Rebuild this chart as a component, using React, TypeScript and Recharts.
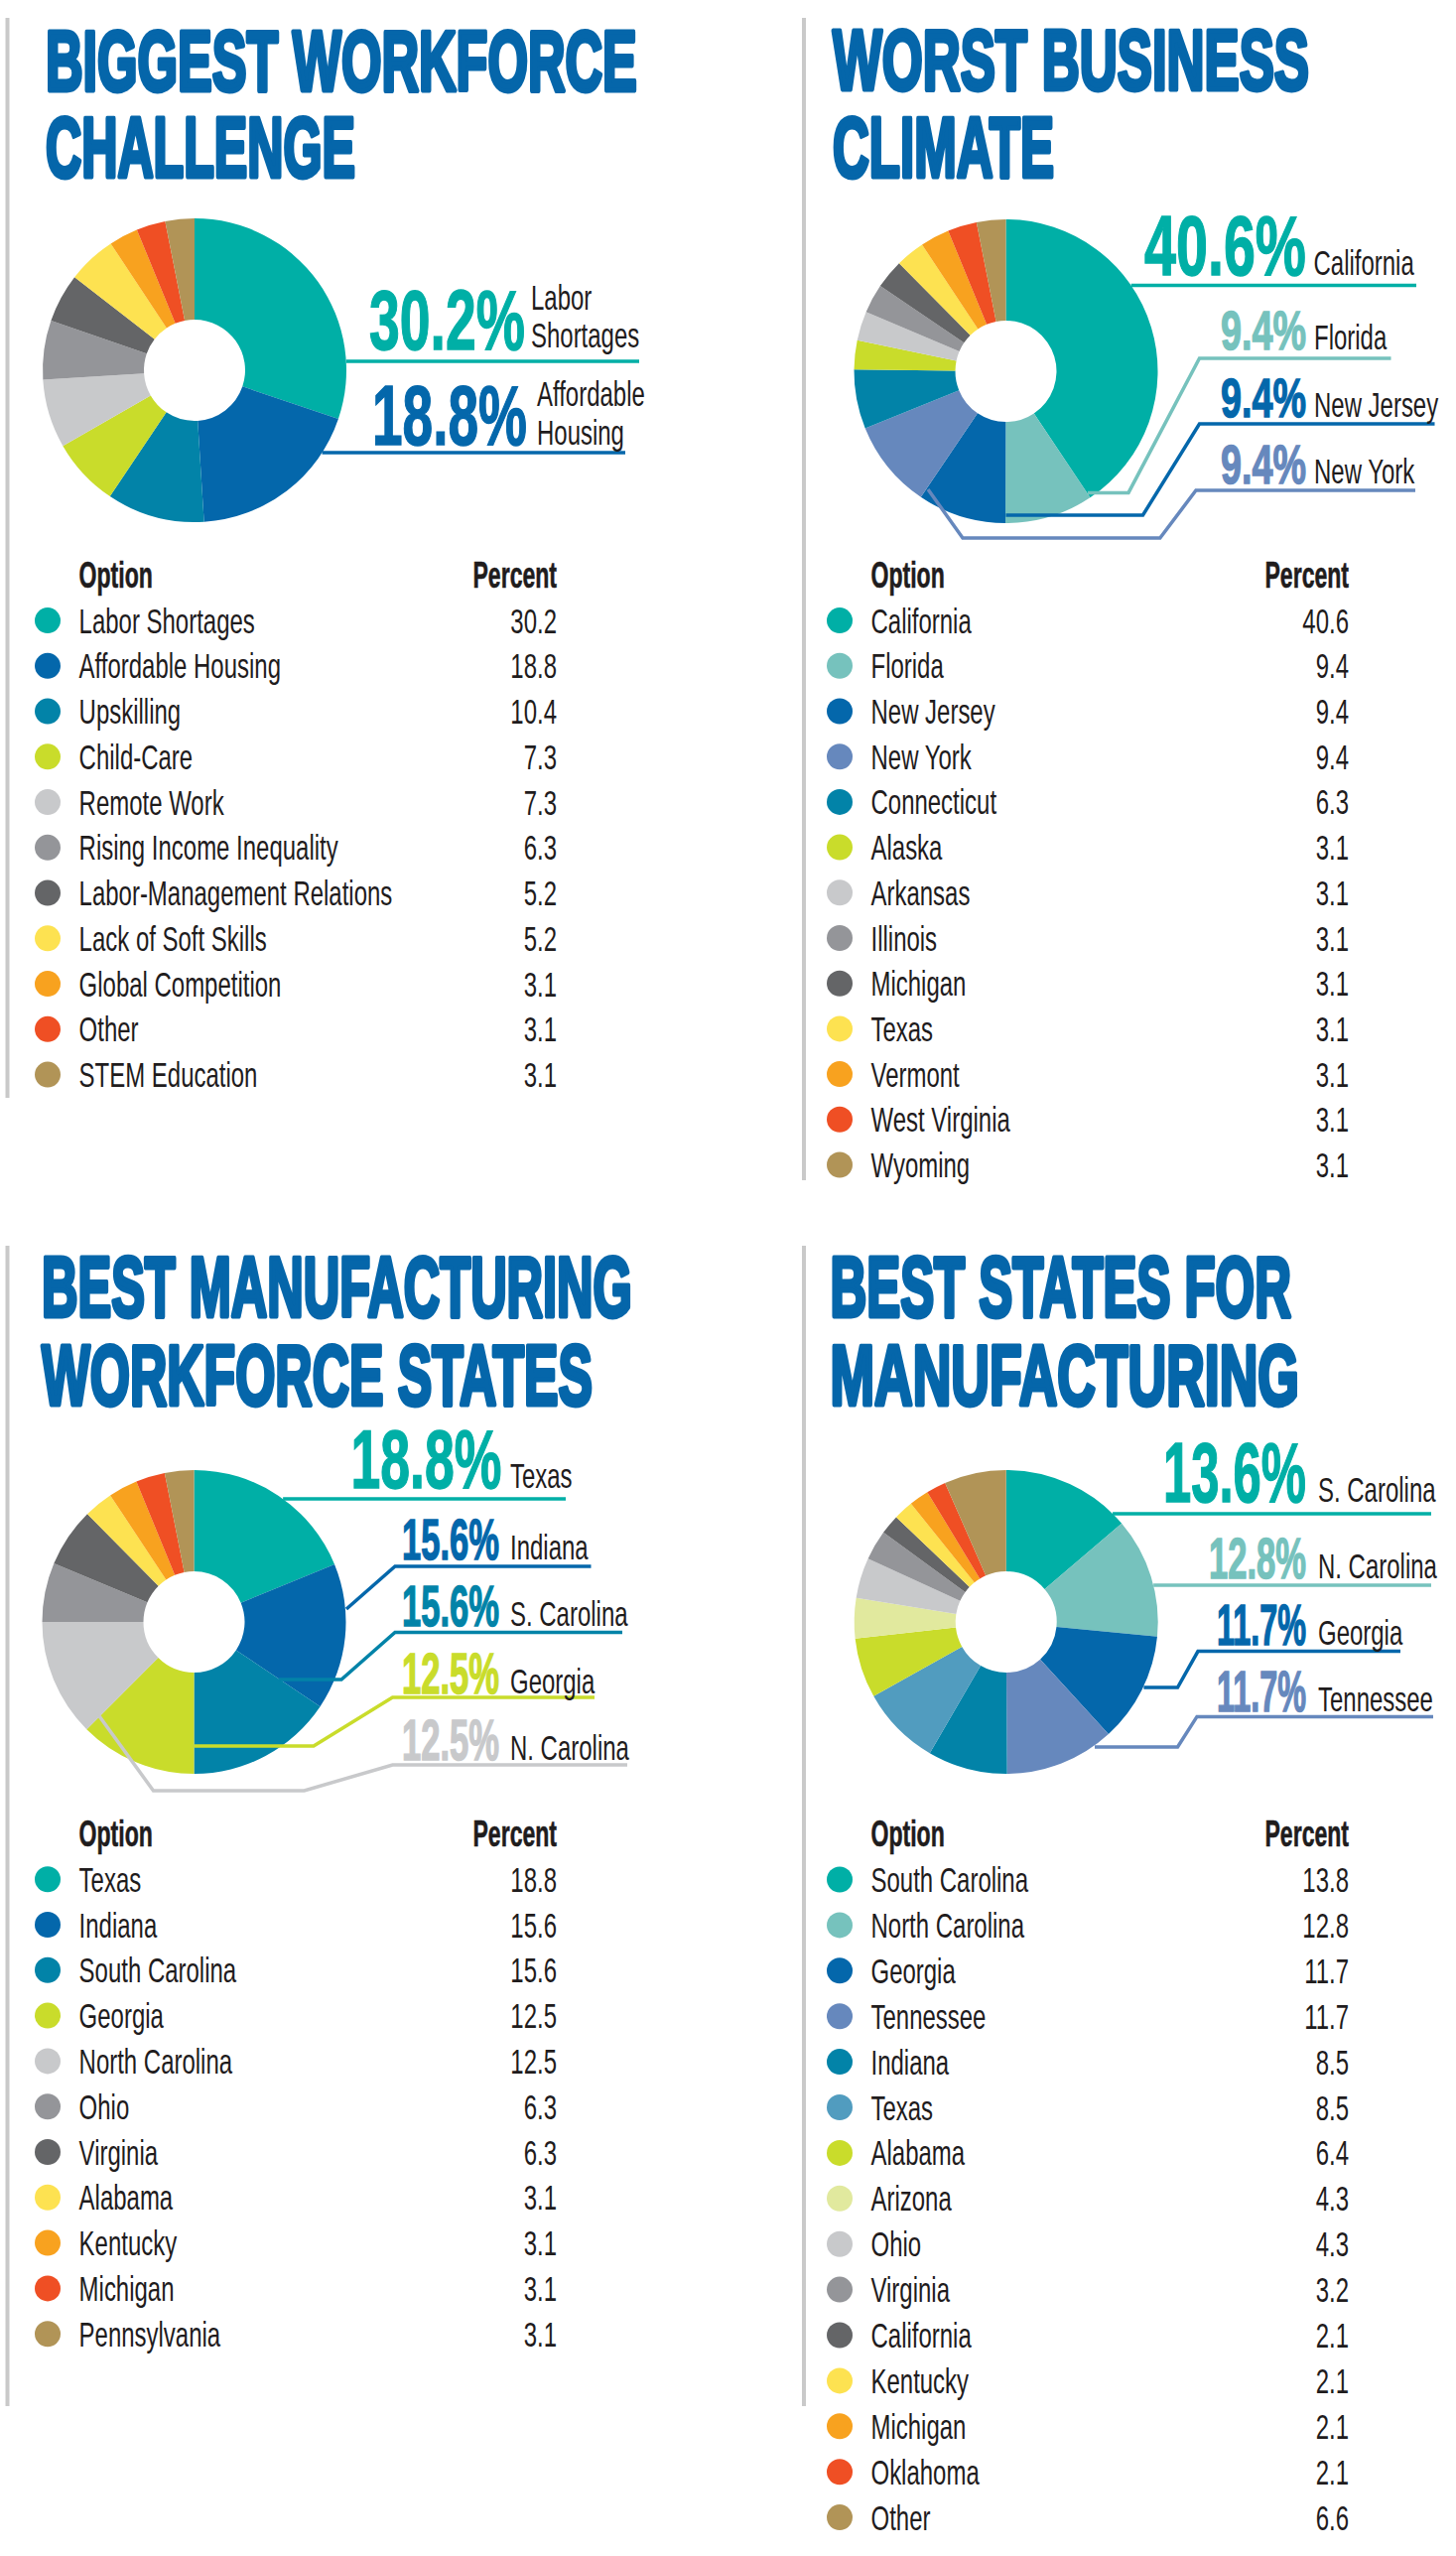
import React from "react";
import { PieChart, Pie, Cell } from "recharts";

// ---------- palette ----------
const TEAL = "#00afa6";
const LTEAL = "#76c2bd";
const DBLUE = "#0467ab";
const PERI = "#6688bd";
const OCEAN = "#0283a8";
const SKY = "#519cbf";
const LIME = "#c9dc2b";
const PALELIME = "#e1e99e";
const LGRAY = "#c8c9cb";
const MGRAY = "#949599";
const DGRAY = "#646567";
const YELLOW = "#fde251";
const ORANGE = "#f8a21f";
const RED = "#ef4f24";
const TAN = "#b19457";
const TITLE_BLUE = "#0566aa";
const INK = "#1f1c1d";
const BAR_GREY = "#c9c9c9";
const FONT = "'Liberation Sans', Arial, sans-serif";

// ---------- data ----------
const workforceOptions = [
  "Labor Shortages", "Affordable Housing", "Upskilling", "Child-Care", "Remote Work",
  "Rising Income Inequality", "Labor-Management Relations", "Lack of Soft Skills",
  "Global Competition", "Other", "STEM Education",
];
const workforcePercents = [30.2, 18.8, 10.4, 7.3, 7.3, 6.3, 5.2, 5.2, 3.1, 3.1, 3.1];
const workforceColors = [TEAL, DBLUE, OCEAN, LIME, LGRAY, MGRAY, DGRAY, YELLOW, ORANGE, RED, TAN];
const workforceCalloutPct = ["30.2%", "18.8%"];
const workforceCalloutNames = [["Labor", "Shortages"], ["Affordable", "Housing"]];

const climateStates = [
  "California", "Florida", "New Jersey", "New York", "Connecticut", "Alaska", "Arkansas",
  "Illinois", "Michigan", "Texas", "Vermont", "West Virginia", "Wyoming",
];
const climatePercents = [40.6, 9.4, 9.4, 9.4, 6.3, 3.1, 3.1, 3.1, 3.1, 3.1, 3.1, 3.1, 3.1];
const climateColors = [TEAL, LTEAL, DBLUE, PERI, OCEAN, LIME, LGRAY, MGRAY, DGRAY, YELLOW, ORANGE, RED, TAN];
const climateCalloutPct = ["40.6%", "9.4%", "9.4%", "9.4%"];
const climateCalloutNames = [["California"], ["Florida"], ["New Jersey"], ["New York"]];

const workforceStates = [
  "Texas", "Indiana", "South Carolina", "Georgia", "North Carolina", "Ohio", "Virginia",
  "Alabama", "Kentucky", "Michigan", "Pennsylvania",
];
const workforceStatePercents = [18.8, 15.6, 15.6, 12.5, 12.5, 6.3, 6.3, 3.1, 3.1, 3.1, 3.1];
const workforceStateColors = [TEAL, DBLUE, OCEAN, LIME, LGRAY, MGRAY, DGRAY, YELLOW, ORANGE, RED, TAN];
const workforceStateCalloutPct = ["18.8%", "15.6%", "15.6%", "12.5%", "12.5%"];
const workforceStateCalloutNames = [["Texas"], ["Indiana"], ["S. Carolina"], ["Georgia"], ["N. Carolina"]];

const manufacturingStates = [
  "South Carolina", "North Carolina", "Georgia", "Tennessee", "Indiana", "Texas", "Alabama",
  "Arizona", "Ohio", "Virginia", "California", "Kentucky", "Michigan", "Oklahoma", "Other",
];
const manufacturingPercents = [13.8, 12.8, 11.7, 11.7, 8.5, 8.5, 6.4, 4.3, 4.3, 3.2, 2.1, 2.1, 2.1, 2.1, 6.6];
const manufacturingColors = [TEAL, LTEAL, DBLUE, PERI, OCEAN, SKY, LIME, PALELIME, LGRAY, MGRAY, DGRAY, YELLOW, ORANGE, RED, TAN];
const manufacturingCalloutPct = ["13.6%", "12.8%", "11.7%", "11.7%"];
const manufacturingCalloutNames = [["S. Carolina"], ["N. Carolina"], ["Georgia"], ["Tennessee"]];

// ---------- text measuring (to squeeze a regular font into the condensed look) ----------
let measureCtx: CanvasRenderingContext2D | null = null;
function measureText(text: string, size: number, weight: number): number {
  if (!measureCtx) {
    const c = document.createElement("canvas");
    measureCtx = c.getContext("2d");
  }
  if (!measureCtx) return text.length * size * 0.55;
  measureCtx.font = `${weight} ${size}px ${FONT}`;
  return measureCtx.measureText(text).width || text.length * size * 0.55;
}

// ---------- layout (positions relative to the pie centre) ----------
type CalloutLayout = {
  pctRight: number;
  pctBaseline: number;
  pctSize: number;
  pctWidth: number;
  nameX: number;
  nameBaselines: number[];
  edgeY?: number;
  lineEnd?: number;
  path?: [number, number][];
};

const workforceLayout: CalloutLayout[] = [
  { pctRight: 333, pctBaseline: -21, pctSize: 85, pctWidth: 157, nameX: 339, nameBaselines: [-61, -23], edgeY: -9, lineEnd: 448 },
  { pctRight: 335, pctBaseline: 75, pctSize: 85, pctWidth: 156, nameX: 345, nameBaselines: [36, 75], edgeY: 83, lineEnd: 434 },
];
const climateLayout: CalloutLayout[] = [
  { pctRight: 302.5, pctBaseline: -97, pctSize: 85, pctWidth: 163, nameX: 310, nameBaselines: [-97], edgeY: -86.5, lineEnd: 413.5 },
  { pctRight: 302.5, pctBaseline: -22, pctSize: 56, pctWidth: 86, nameX: 310.5, nameBaselines: [-22], path: [[388, -13], [195, -13], [123.5, 122.4], [82.5, 122.4]] },
  { pctRight: 302.5, pctBaseline: 46, pctSize: 56, pctWidth: 86, nameX: 310.5, nameBaselines: [46], path: [[432, 53], [195, 53], [138, 145], [0, 145]] },
  { pctRight: 302.5, pctBaseline: 113, pctSize: 56, pctWidth: 86, nameX: 310.5, nameBaselines: [113], path: [[412.5, 120], [191.5, 120], [155.3, 168], [-43.5, 168], [-78.5, 119]] },
];
const workforceStateLayout: CalloutLayout[] = [
  { pctRight: 310, pctBaseline: -135, pctSize: 84, pctWidth: 152, nameX: 318.5, nameBaselines: [-135], edgeY: -124, lineEnd: 374.5 },
  { pctRight: 307.5, pctBaseline: -63, pctSize: 57, pctWidth: 98, nameX: 318.5, nameBaselines: [-63], path: [[400, -56], [202.5, -56], [153.5, -13]] },
  { pctRight: 307.5, pctBaseline: 4, pctSize: 57, pctWidth: 98, nameX: 318.5, nameBaselines: [4], path: [[431.5, 10.5], [202.5, 10.5], [148.5, 58], [85.5, 58]] },
  { pctRight: 307.5, pctBaseline: 72, pctSize: 57, pctWidth: 98, nameX: 318.5, nameBaselines: [72], path: [[403.5, 76], [200, 76], [120.5, 125], [0, 125]] },
  { pctRight: 307.5, pctBaseline: 139, pctSize: 57, pctWidth: 98, nameX: 318.5, nameBaselines: [139], path: [[436.5, 144], [200, 144], [111, 170], [-41, 170], [-96.5, 93.5]] },
];
const manufacturingLayout: CalloutLayout[] = [
  { pctRight: 302.3, pctBaseline: -121, pctSize: 85, pctWidth: 144, nameX: 314.3, nameBaselines: [-121], edgeY: -109, lineEnd: 428.3 },
  { pctRight: 302.3, pctBaseline: -44, pctSize: 58, pctWidth: 98, nameX: 314.3, nameBaselines: [-44], edgeY: -37, lineEnd: 428.3 },
  { pctRight: 302.3, pctBaseline: 23, pctSize: 57, pctWidth: 90, nameX: 314.3, nameBaselines: [23], path: [[397.3, 29.6], [193.3, 29.6], [172.8, 66], [138.7, 66]] },
  { pctRight: 302.3, pctBaseline: 90, pctSize: 57, pctWidth: 90, nameX: 314.3, nameBaselines: [90], path: [[430.3, 95.4], [192.3, 95.4], [172.8, 126], [89.3, 126]] },
];

type PanelSpec = {
  key: string;
  names: string[];
  values: number[];
  colors: string[];
  calloutPct: string[];
  calloutNames: string[][];
  layout: CalloutLayout[];
  box: { left: number; top: number; width: number; height: number; cx: number; cy: number };
  title: { x: number; lines: { text: string; y: number; w: number }[] };
  bar: { x: number; y1: number; y2: number };
  table: { dotX: number; textX: number; rightX: number; headerY: number; firstY: number; pitch: number };
};

const panels: PanelSpec[] = [
  {
    key: "workforce",
    names: workforceOptions, values: workforcePercents, colors: workforceColors,
    calloutPct: workforceCalloutPct, calloutNames: workforceCalloutNames, layout: workforceLayout,
    box: { left: 0, top: 0, width: 734, height: 580, cx: 196, cy: 373 },
    title: { x: 44, lines: [{ text: "BIGGEST WORKFORCE", y: 93, w: 600 }, { text: "CHALLENGE", y: 180, w: 316 }] },
    bar: { x: 7.5, y1: 18, y2: 1106 },
    table: { dotX: 48, textX: 79.6, rightX: 561, headerY: 592, firstY: 637.6, pitch: 45.75 },
  },
  {
    key: "climate",
    names: climateStates, values: climatePercents, colors: climateColors,
    calloutPct: climateCalloutPct, calloutNames: climateCalloutNames, layout: climateLayout,
    box: { left: 734, top: 0, width: 733, height: 580, cx: 279.5, cy: 374 },
    title: { x: 837, lines: [{ text: "WORST BUSINESS", y: 92, w: 484 }, { text: "CLIMATE", y: 180, w: 227 }] },
    bar: { x: 810, y1: 18, y2: 1189 },
    table: { dotX: 846, textX: 877.5, rightX: 1359, headerY: 592, firstY: 637.6, pitch: 45.7 },
  },
  {
    key: "workforceStates",
    names: workforceStates, values: workforceStatePercents, colors: workforceStateColors,
    calloutPct: workforceStateCalloutPct, calloutNames: workforceStateCalloutNames, layout: workforceStateLayout,
    box: { left: 0, top: 1230, width: 734, height: 600, cx: 195.5, cy: 404 },
    title: { x: 40, lines: [{ text: "BEST MANUFACTURING", y: 1328, w: 599 }, { text: "WORKFORCE STATES", y: 1417, w: 559 }] },
    bar: { x: 7.5, y1: 1255, y2: 2424 },
    table: { dotX: 48, textX: 79.6, rightX: 561, headerY: 1860, firstY: 1905.7, pitch: 45.8 },
  },
  {
    key: "manufacturing",
    names: manufacturingStates, values: manufacturingPercents, colors: manufacturingColors,
    calloutPct: manufacturingCalloutPct, calloutNames: manufacturingCalloutNames, layout: manufacturingLayout,
    box: { left: 734, top: 1230, width: 733, height: 600, cx: 279.7, cy: 404 },
    title: { x: 834.5, lines: [{ text: "BEST STATES FOR", y: 1328, w: 468.5 }, { text: "MANUFACTURING", y: 1417, w: 476.5 }] },
    bar: { x: 810, y1: 1255, y2: 2424 },
    table: { dotX: 846, textX: 877.5, rightX: 1359, headerY: 1860, firstY: 1906, pitch: 45.9 },
  },
];

const ROW_SIZE = 35;
const ROW_SCALE = 0.685;
const HEAD_SIZE = 36;
const HEAD_SCALE = 0.64;

function makeCalloutRenderer(p: PanelSpec) {
  return (props: any) => {
    const { cx, cy, outerRadius, index } = props;
    const L = p.layout[index];
    if (!L) return <g key={`none-${index}`} />;
    const color = p.colors[index];
    let pts: [number, number][];
    if (L.edgeY !== undefined) {
      const dx = Math.sqrt(Math.max(0, outerRadius * outerRadius - L.edgeY * L.edgeY));
      pts = [[cx + (L.lineEnd as number), cy + L.edgeY], [cx + dx, cy + L.edgeY]];
    } else {
      pts = (L.path || []).map(([x, y]) => [cx + x, cy + y] as [number, number]);
    }
    const pctText = p.calloutPct[index];
    const sx = L.pctWidth / measureText(pctText, L.pctSize, 700);
    const pctX = cx + L.pctRight - L.pctWidth;
    return (
      <g key={`callout-${index}`}>
        <polyline
          points={pts.map((q) => q.join(",")).join(" ")}
          fill="none"
          stroke={color}
          strokeWidth={3.5}
          strokeLinejoin="miter"
        />
        <text
          transform={`translate(${pctX},${cy + L.pctBaseline}) scale(${sx},1)`}
          fontFamily={FONT}
          fontWeight={700}
          fontSize={L.pctSize}
          fill={color}
          stroke={color}
          strokeWidth={1.2}
          vectorEffect="non-scaling-stroke"
        >
          {pctText}
        </text>
        {p.calloutNames[index].map((nm, k) => (
          <text
            key={k}
            transform={`translate(${cx + L.nameX},${cy + L.nameBaselines[k]}) scale(${ROW_SCALE},1)`}
            fontFamily={FONT}
            fontSize={ROW_SIZE}
            fill={INK}
          >
            {nm}
          </text>
        ))}
      </g>
    );
  };
}

function PanelChart({ p }: { p: PanelSpec }) {
  const data = p.names.map((name, i) => ({ name, value: p.values[i] }));
  return (
    <div style={{ position: "absolute", left: p.box.left, top: p.box.top, width: p.box.width, height: p.box.height }}>
      <PieChart width={p.box.width} height={p.box.height} margin={{ top: 0, right: 0, bottom: 0, left: 0 }}>
        <Pie
          data={data}
          dataKey="value"
          nameKey="name"
          cx={p.box.cx}
          cy={p.box.cy}
          innerRadius={51}
          outerRadius={153}
          startAngle={90}
          endAngle={-270}
          stroke="none"
          isAnimationActive={false}
          labelLine={false}
          label={makeCalloutRenderer(p)}
        >
          {data.map((d, i) => (
            <Cell key={d.name} fill={p.colors[i]} stroke="none" />
          ))}
        </Pie>
      </PieChart>
    </div>
  );
}

function PanelStatic({ p }: { p: PanelSpec }) {
  const t = p.table;
  return (
    <g>
      <rect x={p.bar.x - 2} y={p.bar.y1} width={4} height={p.bar.y2 - p.bar.y1} fill={BAR_GREY} />
      {p.title.lines.map((ln) => {
        const sx = (ln.w - 4) / measureText(ln.text, 85, 700);
        return (
          <text
            key={ln.text}
            transform={`translate(${p.title.x + 2},${ln.y - 2}) scale(${sx},1)`}
            fontFamily={FONT}
            fontWeight={700}
            fontSize={85}
            fill={TITLE_BLUE}
            stroke={TITLE_BLUE}
            strokeWidth={4}
            strokeLinejoin="round"
            vectorEffect="non-scaling-stroke"
          >
            {ln.text}
          </text>
        );
      })}
      <text
        transform={`translate(${t.textX},${t.headerY}) scale(${HEAD_SCALE},1)`}
        fontFamily={FONT}
        fontWeight={700}
        fontSize={HEAD_SIZE}
        fill={INK}
        stroke={INK}
        strokeWidth={0.6}
      >
        Option
      </text>
      <text
        transform={`translate(${t.rightX},${t.headerY}) scale(${HEAD_SCALE},1)`}
        textAnchor="end"
        fontFamily={FONT}
        fontWeight={700}
        fontSize={HEAD_SIZE}
        fill={INK}
        stroke={INK}
        strokeWidth={0.6}
      >
        Percent
      </text>
      {p.names.map((nm, i) => {
        const y = t.firstY + i * t.pitch;
        return (
          <g key={nm}>
            <circle cx={t.dotX} cy={y - 12.5} r={13} fill={p.colors[i]} />
            <text
              transform={`translate(${t.textX},${y}) scale(${ROW_SCALE},1)`}
              fontFamily={FONT}
              fontSize={ROW_SIZE}
              fill={INK}
            >
              {nm}
            </text>
            <text
              transform={`translate(${t.rightX},${y}) scale(${ROW_SCALE},1)`}
              textAnchor="end"
              fontFamily={FONT}
              fontSize={ROW_SIZE}
              fill={INK}
            >
              {p.values[i].toFixed(1)}
            </text>
          </g>
        );
      })}
    </g>
  );
}

export default function App() {
  return (
    <div style={{ position: "absolute", left: 0, top: 0, width: 1467, height: 2575, background: "#ffffff", overflow: "hidden" }}>
      <svg width={1467} height={2575} style={{ position: "absolute", left: 0, top: 0 }}>
        {panels.map((p) => (
          <PanelStatic key={p.key} p={p} />
        ))}
      </svg>
      {panels.map((p) => (
        <PanelChart key={p.key} p={p} />
      ))}
    </div>
  );
}
